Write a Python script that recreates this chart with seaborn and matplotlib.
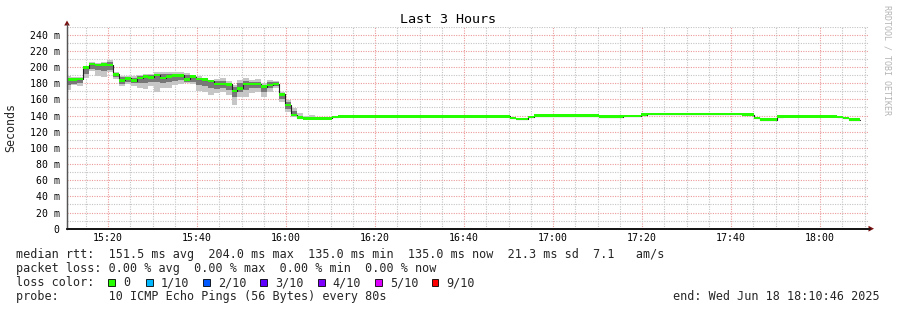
import numpy as np
import pandas as pd
import matplotlib
matplotlib.use("Agg")
import matplotlib.pyplot as plt
import matplotlib.dates as mdates
from matplotlib.ticker import MultipleLocator
from matplotlib.patches import Rectangle, Polygon
import seaborn as sns

# ---------------- data ----------------
step_start = "2025-06-18 15:10:24"     # first (partially visible) 80 s step
step_seconds = 80
view_start = "2025-06-18 15:10:46"
view_end = "2025-06-18 18:10:46"

median_ms = [
    184.7, 184.7, 185.5, 199.5, 204.0, 202.4, 203.5, 202.4, 191.2, 183.6,
    186.1, 183.2, 186.5, 188.6, 187.3, 190.0, 186.5, 188.6, 189.8, 189.8,
    184.9, 188.1, 185.3, 184.5, 182.8, 179.1, 179.1, 178.7, 170.4, 173.7,
    179.1, 179.1, 179.1, 175.8, 177.8, 179.1, 166.3, 153.0, 140.6, 137.6,
    136.4, 136.4, 136.4, 136.4, 136.4, 138.0, 139.1, 139.1, 139.1, 139.1,
    139.1, 139.1, 139.1, 139.1, 139.1, 139.1, 139.1, 139.1, 139.1, 139.1,
    139.1, 139.1, 139.1, 139.1, 139.1, 139.1, 139.1, 139.1, 139.1, 139.1,
    139.1, 139.1, 139.1, 139.1, 139.1, 137.2, 136.0, 136.0, 138.0, 139.8,
    139.8, 139.8, 139.8, 139.8, 139.8, 139.8, 139.8, 139.8, 139.8, 139.8,
    138.7, 138.7, 138.7, 138.7, 139.5, 139.5, 139.5, 141.3, 142.0, 142.0,
    142.0, 142.0, 142.0, 142.0, 142.0, 142.0, 142.0, 142.0, 142.0, 142.0,
    142.0, 142.0, 142.0, 142.0, 141.3, 141.3, 136.8, 135.0, 135.0, 135.0,
    138.6, 139.1, 139.1, 139.1, 139.1, 139.1, 139.1, 139.1, 139.1, 139.1,
    138.3, 137.0, 135.0, 135.0,
]

# smoke (spread of the 10 pings) for the first steps, ms
smoke_hi = [189.0, 188.0, 188.0, 201.0, 206.0, 205.0, 206.0, 208.8, 193.5, 189.4,
            189.4, 188.6, 190.0, 191.0, 191.4, 193.5, 194.3, 194.3, 193.5, 193.5,
            192.3, 190.0, 189.4, 186.0, 184.0, 185.0, 186.0, 182.8, 177.8, 184.0,
            186.0, 184.0, 185.0, 180.0, 184.0, 182.8, 169.6, 159.3, 149.4, 143.0,
            139.0, 141.0]
smoke_lo = [171.6, 178.0, 177.0, 187.0, 195.5, 189.5, 187.7, 193.5, 185.4, 176.6,
            178.7, 177.0, 173.7, 173.0, 177.0, 168.8, 173.7, 173.7, 178.0, 178.7,
            180.0, 178.7, 170.4, 169.6, 166.0, 167.5, 169.6, 166.0, 153.0, 163.4,
            163.4, 167.5, 169.6, 163.4, 169.6, 173.7, 156.6, 145.0, 138.0, 137.0,
            135.5, 136.0]
smoke_hi_in = [187.0, 187.0, 187.0, 200.0, 205.0, 204.0, 205.0, 206.0, 192.5, 188.0,
               188.0, 186.5, 188.5, 190.0, 190.0, 192.0, 191.0, 192.0, 192.0, 192.0,
               190.0, 189.5, 187.0, 185.5, 183.5, 183.0, 183.0, 180.0, 175.0, 180.0,
               183.0, 182.0, 182.0, 178.0, 181.0, 181.0, 168.0, 157.0, 146.0, 140.0,
               137.5, 137.5]
smoke_lo_in = [178.0, 179.5, 180.0, 191.0, 198.0, 196.0, 195.0, 197.0, 188.0, 179.0,
               181.0, 180.0, 180.0, 180.0, 181.0, 181.0, 180.0, 181.0, 183.0, 184.0,
               182.0, 182.0, 178.0, 177.0, 174.0, 173.0, 174.0, 172.0, 163.0, 169.0,
               172.0, 174.0, 174.0, 169.0, 174.0, 176.0, 160.0, 148.0, 139.0, 136.5,
               135.8, 136.0]

y_ticks = [0, 20, 40, 60, 80, 100, 120, 140, 160, 180, 200, 220, 240]
y_tick_labels = ["0", "20 m", "40 m", "60 m", "80 m", "100 m", "120 m", "140 m",
                 "160 m", "180 m", "200 m", "220 m", "240 m"]

loss_labels = ["0", "1/10", "2/10", "3/10", "4/10", "5/10", "9/10"]
loss_colors = ["#26ff00", "#00b8ff", "#0059ff", "#5e00ff", "#7e00ff", "#dd00ff", "#ff0000"]

stats_line = "median rtt:  151.5 ms avg  204.0 ms max  135.0 ms min  135.0 ms now  21.3 ms sd  7.1   am/s"
loss_line = "packet loss: 0.00 % avg  0.00 % max  0.00 % min  0.00 % now"
probe_line = "probe:       10 ICMP Echo Pings (56 Bytes) every 80s"
end_line = "end: Wed Jun 18 18:10:46 2025"
title = "Last 3 Hours"

# ---------------- figure ----------------
sns.set_theme(style="white")
plt.rcParams["font.family"] = ["DejaVu Sans Mono"]
plt.rcParams["axes.linewidth"] = 0.8

W, H = 897, 310
fig = plt.figure(figsize=(W / 100, H / 100), dpi=100)
fig.patch.set_facecolor("white")
ax = fig.add_axes([67 / W, 81.3 / H, 801 / W, 202 / H])
ax.set_facecolor("white")

times = pd.date_range(step_start, periods=len(median_ms), freq=f"{step_seconds}s")
edges = times.append(pd.DatetimeIndex([times[-1] + pd.Timedelta(seconds=step_seconds)]))
df = pd.DataFrame({"time": edges, "median": list(median_ms) + [median_ms[-1]]})

ns = len(smoke_hi)
sx = edges[: ns + 1]
ext = lambda a: list(a) + [a[-1]]
ax.fill_between(sx, ext(smoke_lo), ext(smoke_hi), step="post", color="#c6c6c6", lw=0, zorder=2)
ax.fill_between(sx, ext(smoke_lo_in), ext(smoke_hi_in), step="post", color="#787878", lw=0, zorder=3)

sns.lineplot(data=df, x="time", y="median", drawstyle="steps-post", color="#202020",
             lw=0.8, ax=ax, zorder=4)
med = np.array(df["median"])
half = 1.6
ax.fill_between(df["time"], med - half, med + half, step="post", color="#26ff00", lw=0, zorder=5)

ax.set_xlim(pd.Timestamp(view_start), pd.Timestamp(view_end))
ax.set_ylim(0, 250)
ax.set_xlabel("")
ax.set_ylabel("")

ax.xaxis.set_major_locator(mdates.MinuteLocator(byminute=[0, 20, 40]))
ax.xaxis.set_minor_locator(mdates.MinuteLocator(byminute=range(0, 60, 5)))
ax.xaxis.set_major_formatter(mdates.DateFormatter("%H:%M"))
ax.set_yticks(y_ticks, labels=y_tick_labels)
ax.yaxis.set_minor_locator(MultipleLocator(10))

ax.grid(which="minor", color="#c4c4c4", lw=0.8, ls=(0, (1, 1.2)), zorder=1)
ax.grid(which="major", color="#ec9a9a", lw=0.8, ls=(0, (1, 1.2)), zorder=1)
ax.set_axisbelow(True)

ax.tick_params(axis="both", which="both", length=0, labelsize=7.1, colors="black")
ax.tick_params(axis="y", pad=5.2)
ax.tick_params(axis="x", pad=3.0)

for s in ["top", "right"]:
    ax.spines[s].set_visible(False)
ax.spines["left"].set_color("#555555")
ax.spines["left"].set_linewidth(0.9)
ax.spines["bottom"].set_color("#111111")
ax.spines["bottom"].set_linewidth(1.2)
ax.spines["left"].set_zorder(6)
ax.spines["bottom"].set_zorder(6)

# axis extensions + arrows (figure pixels)
def px(x, y):
    return (x / W, 1 - y / H)

arrow_col = "#7a1010"
fig.add_artist(plt.Line2D([67 / W, 67 / W], [1 - 228.7 / H, 1 - 24 / H], color="#555555", lw=0.9))
fig.add_artist(plt.Line2D([67 / W, 870 / W], [1 - 228.7 / H, 1 - 228.7 / H], color="#111111", lw=1.2))
fig.add_artist(Polygon([px(64.2, 25.5), px(69.8, 25.5), px(67, 20.5)], closed=True,
                       transform=fig.transFigure, color=arrow_col, lw=0))
fig.add_artist(Polygon([px(868.5, 225.8), px(868.5, 231.6), px(874, 228.7)], closed=True,
                       transform=fig.transFigure, color=arrow_col, lw=0))

# texts
fig.text(448 / W, 1 - 19.5 / H, title, ha="center", va="center", fontsize=9.6, color="black")
fig.text(11 / W, 1 - 127 / H, "Seconds", rotation=90, ha="center", va="center", fontsize=8.4)
fig.text(887 / W, 1 - 60 / H, "RRDTOOL / TOBI OETIKER", rotation=270, ha="center", va="center",
         fontsize=6.0, color="#b4b4b4")

fs = 8.48
fig.text(16 / W, 1 - 254.5 / H, stats_line, ha="left", va="center", fontsize=fs)
fig.text(16 / W, 1 - 268.5 / H, loss_line, ha="left", va="center", fontsize=fs)
fig.text(16 / W, 1 - 282.5 / H, "loss color:", ha="left", va="center", fontsize=fs)
fig.text(16 / W, 1 - 296.5 / H, probe_line, ha="left", va="center", fontsize=fs)
fig.text(880 / W, 1 - 296.5 / H, end_line, ha="right", va="center", fontsize=fs)

box_x = [108.3, 145.7, 202.7, 260.0, 317.7, 375.0, 431.5]
for bx, lab, col in zip(box_x, loss_labels, loss_colors):
    fig.add_artist(Rectangle((bx / W, 1 - 286 / H), 6.8 / W, 6.8 / H, transform=fig.transFigure,
                             facecolor=col, edgecolor="black", lw=0.6))
    fig.text((bx + 15) / W, 1 - 282.5 / H, lab, ha="left", va="center", fontsize=fs)

fig.savefig("out.png", dpi=100, facecolor="white")
